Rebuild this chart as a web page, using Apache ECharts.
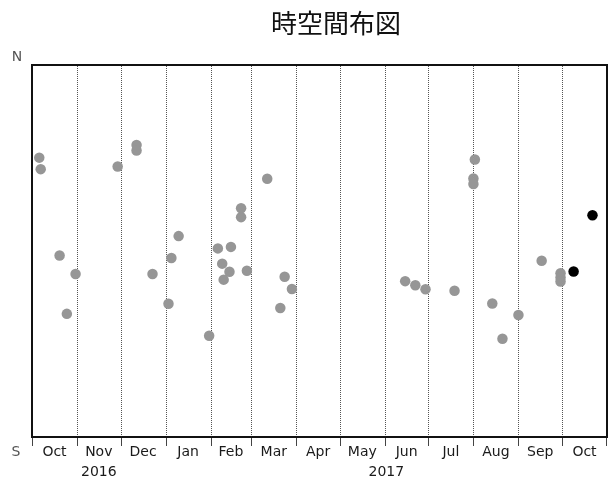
<!DOCTYPE html>
<html>
<head>
<meta charset="utf-8">
<script src="https://cdn.jsdelivr.net/npm/echarts@6/dist/echarts.min.js"></script>
<style>
  html, body { margin: 0; padding: 0; background: #fff; }
  #chart { width: 612px; height: 482px; }
</style>
</head>
<body>
<div id="chart"></div>
<script>
// Month boundaries of the time axis (last entry closes the final month)
const monthStarts = ['2016-10-01', '2016-11-01', '2016-12-01', '2017-01-01', '2017-02-01',
  '2017-03-01', '2017-04-01', '2017-05-01', '2017-06-01', '2017-07-01', '2017-08-01',
  '2017-09-01', '2017-10-01', '2017-11-01'];
const monthLabels = ['Oct', 'Nov', 'Dec', 'Jan', 'Feb', 'Mar', 'Apr', 'May', 'Jun', 'Jul', 'Aug', 'Sep', 'Oct'];
const yearLabels = ['2016', '2017'];
const yearStarts = ['2016-10-01', '2017-01-01'];
const yearEnds = ['2017-01-01', '2017-11-01'];

// Earlier observations (grey) : date and north–south position (0 = S, 100 = N)
const greyDates = ['2016-10-06', '2016-10-07', '2016-10-20', '2016-10-31', '2016-10-25',
  '2016-11-29', '2016-12-12', '2016-12-12', '2016-12-23', '2017-01-05', '2017-01-10',
  '2017-01-03', '2017-01-31', '2017-02-06', '2017-02-09', '2017-02-10', '2017-02-15',
  '2017-02-14', '2017-02-22', '2017-02-22', '2017-02-26', '2017-03-12', '2017-03-21',
  '2017-03-24', '2017-03-29', '2017-06-15', '2017-06-22', '2017-06-29', '2017-07-19',
  '2017-08-02', '2017-08-01', '2017-08-01', '2017-08-14', '2017-08-21', '2017-09-01',
  '2017-09-17', '2017-09-30', '2017-09-30', '2017-09-30'];
const greyValues = [75.1, 72.0, 48.8, 43.8, 33.1,
  72.7, 78.5, 77.0, 43.8, 48.1, 54.0,
  35.8, 27.2, 50.7, 46.6, 42.3, 51.1,
  44.4, 61.5, 59.1, 44.7, 69.4, 34.7,
  43.1, 39.8, 41.9, 40.8, 39.7, 39.3,
  74.6, 69.5, 68.0, 35.9, 26.4, 32.8,
  47.4, 44.0, 42.9, 41.8];

// Latest observations (black)
const blackDates = ['2017-10-09', '2017-10-22'];
const blackValues = [44.5, 59.6];

const t = s => new Date(s + 'T00:00:00').getTime();

const monthData = monthLabels.map((m, i) => [t(monthStarts[i]), t(monthStarts[i + 1]), m]);
const yearData = yearLabels.map((y, i) => [t(yearStarts[i]), t(yearEnds[i]), y]);
const greyData = greyDates.map((d, i) => [t(d), greyValues[i]]);
const blackData = blackDates.map((d, i) => [t(d), blackValues[i]]);

const labelFont = '14px "DejaVu Sans", sans-serif';
const lastIndex = monthData.length - 1;

const chart = echarts.init(document.getElementById('chart'), null, { renderer: 'canvas' });
chart.setOption({
  animation: false,
  backgroundColor: '#ffffff',
  grid: { left: 32, right: 5, top: 65, bottom: 45, show: true, borderColor: '#111', borderWidth: 2, backgroundColor: 'transparent', z: 3 },
  xAxis: {
    type: 'time', min: t(monthStarts[0]), max: t(monthStarts[monthStarts.length - 1]),
    axisLine: { show: false }, axisTick: { show: false }, axisLabel: { show: false }, splitLine: { show: false }
  },
  yAxis: {
    type: 'value', min: 0, max: 100,
    axisLine: { show: false }, axisTick: { show: false }, axisLabel: { show: false }, splitLine: { show: false }
  },
  graphic: [
    { type: 'text', x: 336, y: 23, style: { text: '時空間布図', font: '26px "Noto Sans CJK JP"', fill: '#111', align: 'center', verticalAlign: 'middle' } },
    { type: 'text', x: 17, y: 57, style: { text: 'N', font: '14px "DejaVu Sans", sans-serif', fill: '#555', align: 'center', verticalAlign: 'middle' } },
    { type: 'text', x: 16, y: 452, style: { text: 'S', font: '14px "DejaVu Sans", sans-serif', fill: '#555', align: 'center', verticalAlign: 'middle' } }
  ],
  series: [
    {
      // month separators, ticks and month names
      type: 'custom', clip: false, z: 1, silent: true,
      data: monthData,
      renderItem: function (params, api) {
        const top = api.coord([api.value(0), 100]);
        const bottom = api.coord([api.value(0), 0]);
        const endPt = api.coord([api.value(1), 0]);
        const x = Math.round(top[0]) + 0.5;
        const children = [];
        if (params.dataIndex > 0) {
          children.push({ type: 'line', shape: { x1: x, y1: top[1] + 1, x2: x, y2: bottom[1] - 1 },
            style: { stroke: '#555', lineWidth: 1, lineDash: [1, 1] } });
        }
        children.push({ type: 'line', shape: { x1: x, y1: bottom[1], x2: x, y2: bottom[1] + 9 },
          style: { stroke: '#444', lineWidth: 1 } });
        if (params.dataIndex === lastIndex) {
          const xe = Math.round(endPt[0]) - 0.5;
          children.push({ type: 'line', shape: { x1: xe, y1: bottom[1], x2: xe, y2: bottom[1] + 9 },
            style: { stroke: '#444', lineWidth: 1 } });
        }
        children.push({ type: 'text', x: (bottom[0] + endPt[0]) / 2, y: bottom[1] + 15,
          style: { text: api.value(2), font: labelFont, fill: '#1a1a1a', align: 'center', verticalAlign: 'middle' } });
        return { type: 'group', children: children };
      }
    },
    {
      // year names centred under the months they cover
      type: 'custom', clip: false, z: 1, silent: true,
      data: yearData,
      renderItem: function (params, api) {
        const a = api.coord([api.value(0), 0]);
        const b = api.coord([api.value(1), 0]);
        return { type: 'text', x: (a[0] + b[0]) / 2, y: a[1] + 35,
          style: { text: api.value(2), font: labelFont, fill: '#1a1a1a', align: 'center', verticalAlign: 'middle' } };
      }
    },
    {
      type: 'scatter', z: 2, data: greyData, symbolSize: 10.5,
      itemStyle: { color: '#969696', opacity: 1 }
    },
    {
      type: 'scatter', z: 2, data: blackData, symbolSize: 10.5,
      itemStyle: { color: '#000', opacity: 1 }
    }
  ]
});
</script>
</body>
</html>
